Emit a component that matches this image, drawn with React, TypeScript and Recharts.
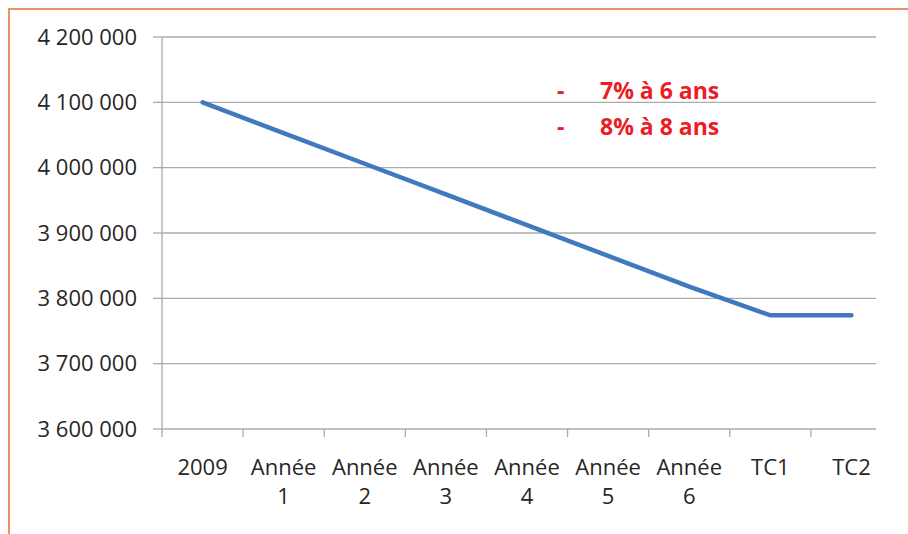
import React from "react";
import { LineChart, Line, XAxis, YAxis, CartesianGrid } from "recharts";

const categories = ["2009", "Année 1", "Année 2", "Année 3", "Année 4", "Année 5", "Année 6", "TC1", "TC2"];
const effectif = [4100000, 4053000, 4006000, 3959000, 3912000, 3865000, 3818000, 3774000, 3774000];
const yTicks = [3600000, 3700000, 3800000, 3900000, 4000000, 4100000, 4200000];
const notes = ["7% à 6 ans", "8% à 8 ans"];

const data = categories.map((name, i) => ({ name, value: effectif[i] }));

const W = 908;
const H = 534;
const FONT = "'Open Sans', 'DejaVu Sans', sans-serif";
const GRID = "#ababab";

const fmt = (v: number) => String(v).replace(/\B(?=(\d{3})+(?!\d))/g, " ");

function XTick({ x, y, payload }: any) {
  const half = payload?.offset ?? 40.5;
  const lines = String(payload.value).split(" ");
  return (
    <g>
      <line x1={x - half} x2={x - half} y1={y - 8} y2={y} stroke={GRID} strokeWidth={1.3} />
      <text x={x} y={y} textAnchor="middle" fontFamily={FONT} fontSize={22} fill="#262626">
        {lines.map((l, i) => (
          <tspan key={i} x={x} dy={i === 0 ? 38 : 29}>{l}</tspan>
        ))}
      </text>
    </g>
  );
}

function HLine(props: any) {
  const { x1, x2, y1, y2 } = props;
  return <line x1={x1} x2={x2 - 16} y1={y1} y2={y2} stroke={GRID} strokeWidth={1.3} />;
}

export default function App() {
  return (
    <div style={{ position: "absolute", left: 0, top: 0, width: W, height: H, overflow: "hidden", background: "#fff" }}>
      <div style={{ position: "absolute", left: 8, top: 8, width: W, height: H, borderLeft: "2px solid #e8926a", borderTop: "2px solid #e8926a" }} />
      <div style={{ position: "absolute", left: 0, top: 0 }}>
        <LineChart width={W} height={H} data={data} margin={{ top: 37, right: 16, left: 0, bottom: 0 }}>
          <CartesianGrid vertical={false} horizontal={(p: any) => <HLine key={p.key} {...p} />} />
          <XAxis dataKey="name" scale="band" axisLine={false} tickLine={false} tickSize={8} tickMargin={0}
            height={105} interval={0} tick={<XTick />} />
          <YAxis domain={[3600000, 4200000]} ticks={yTicks} width={162} tickFormatter={fmt}
            tickSize={9} tickMargin={16} axisLine={{ stroke: GRID, strokeWidth: 1.3 }}
            tickLine={{ stroke: GRID, strokeWidth: 1.3 }}
            tick={{ fontFamily: FONT, fontSize: 22, fill: "#262626" }} />
          <Line type="linear" dataKey="value" stroke="#4179be" strokeWidth={4.5} strokeLinecap="round"
            dot={false} activeDot={false} isAnimationActive={false} />
        </LineChart>
      </div>
      <svg width={W} height={H} style={{ position: "absolute", left: 0, top: 0, pointerEvents: "none" }}>
        {notes.map((n, i) => (
          <g key={n} fontFamily={FONT} fontSize={23} fontWeight={700} fill="#ed1c24">
            <text x={557} y={99 + i * 36}>-</text>
            <text x={600} y={99 + i * 36}>{n}</text>
          </g>
        ))}
      </svg>
    </div>
  );
}
